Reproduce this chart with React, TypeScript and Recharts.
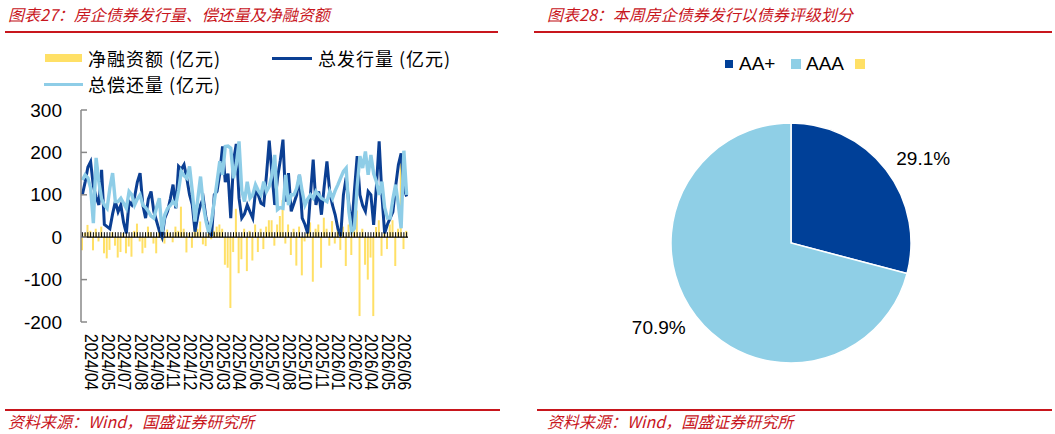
import React from 'react';
import { ComposedChart, Bar, Line, XAxis, YAxis, ReferenceLine, PieChart, Pie, Cell } from 'recharts';

const tickLabels = ['2024/04','2024/05','2024/07','2024/08','2024/09','2024/11','2024/12','2025/02','2025/03','2025/04','2025/06','2025/07','2025/08','2025/10','2025/11','2026/01','2026/02','2026/04','2026/05','2026/06'];

const issuance = [100,130,165,178,120,95,76,159,30,25,
 20,55,84,60,76,35,9,84,76,95,
 130,151,76,45,90,108,61,38,15,0,
 45,61,90,124,68,167,160,171,139,100,
 76,13,50,76,92,45,20,2,100,108,
 150,214,130,150,45,180,220,92,45,55,
 76,60,45,108,100,80,76,147,228,150,
 76,139,180,230,84,151,61,80,100,147,
 45,30,9,100,183,76,108,53,120,179,
 108,76,53,20,2,100,141,76,21,110,
 191,100,75,61,108,100,29,120,226,100,
 9,30,45,60,120,171,198,116,96];

const repayment = [135,147,140,116,33,187,131,90,76,68,
 116,151,84,84,92,80,68,108,100,76,
 90,100,76,70,61,50,45,70,92,13,
 53,68,75,84,76,110,155,145,139,167,
 108,37,90,143,76,37,10,40,84,130,
 179,147,214,215,210,139,171,226,110,84,
 131,92,100,124,110,100,131,108,120,147,
 194,65,70,68,147,76,100,100,116,147,
 108,76,90,100,92,108,100,92,88,84,
 108,92,110,124,140,155,163,60,13,21,
 120,191,163,202,147,194,150,131,100,131,
 70,45,45,90,124,76,21,204,100];

const netFinancing = [-31,10,29,15,-31,20,-10,25,-38,-50,
 -30,12,-20,-48,-35,10,-38,-22,-46,15,
 32,-10,-38,-25,25,12,-15,-38,20,-8,
 -15,18,10,-12,25,15,72,20,-36,10,
 -25,33,20,37,-17,-21,8,-5,15,25,
 30,20,-65,-72,-167,-35,67,-85,-52,20,
 -80,15,-55,30,-35,20,-28,25,40,40,
 -20,30,50,88,-15,30,-42,20,-67,25,
 -90,-10,15,35,-105,20,30,-72,46,20,
 -20,38,-15,20,-30,25,-68,30,-42,40,
 63,-186,20,-65,-100,-48,-186,24,40,-44,
 15,-28,30,40,-68,20,175,-28,15];

const yTicks = [-200, -100, 0, 100, 200, 300];

const pieNames = ['AA+', 'AAA', ''];
const pieValues = [29.1, 70.9, 0];
const pieColors = ['#004098', '#8FCFE6', '#FFE066'];

const DARK = '#0B3F93';
const LIGHT = '#8ECDE7';
const YELLOW = '#FFE066';
const RED = '#C8161D';
const NUM_FONT = 'Liberation Sans, Arial, sans-serif';
const CJK_FONT = '"Noto Sans CJK SC", sans-serif';

const data = issuance.map((v, i) => ({
  week: i,
  iss: v,
  rep: repayment[i],
  net: netFinancing[i],
  axis: 0,
}));

const pieData = pieNames
  .map((n, i) => ({ name: n, value: pieValues[i], color: pieColors[i] }))
  .filter((d) => d.value > 0);

const XTick = (props: any) => {
  const { x, y, payload } = props;
  const w = payload.value as number;
  if (w < 3 || (w - 3) % 6 !== 0) return <g />;
  const label = tickLabels[(w - 3) / 6];
  if (!label) return <g />;
  return (
    <g transform={`translate(${x + 1} ${y}) rotate(90) scale(0.82 1)`}>
      <text
        x={0}
        y={0}
        textAnchor="start"
        dominantBaseline="central"
        fontSize={19}
        fontFamily={NUM_FONT}
        fill="#000"
      >
        {label}
      </text>
    </g>
  );
};

const YTick = (props: any) => {
  const { x, y, payload } = props;
  return (
    <g>
      <line x1={x + 19} x2={x + 25} y1={y} y2={y} stroke="#888" strokeWidth={1.5} />
      <text x={x} y={y} textAnchor="end" dominantBaseline="central" fontSize={19} fontFamily={NUM_FONT} fill="#000">
        {payload.value}
      </text>
    </g>
  );
};

const AxisDot = (props: any) => {
  const { cx, cy, index } = props;
  if (cx == null || cy == null) return <g key={`d${index}`} />;
  return <line key={`d${index}`} x1={cx} x2={cx} y1={cy - 5} y2={cy} stroke="#000" strokeWidth={1} />;
};

const RAD = Math.PI / 180;
const PieLabel = (props: any) => {
  const { cx, cy, midAngle, outerRadius, value } = props;
  if (!value) return null;
  const a = (midAngle - 5) * RAD;
  const r = outerRadius + 37;
  const x = cx + r * Math.cos(a);
  const y = cy - r * Math.sin(a);
  return (
    <text x={x} y={y} textAnchor="middle" dominantBaseline="central" fontSize={19} fontFamily={NUM_FONT} fill="#000">
      {value.toFixed(1)}%
    </text>
  );
};

const abs = (s: React.CSSProperties): React.CSSProperties => ({ position: 'absolute', ...s });

const titleStyle = (left: number): React.CSSProperties =>
  abs({ left, top: 4, fontSize: 16, lineHeight: '20px', color: RED, fontStyle: 'italic', fontFamily: CJK_FONT, whiteSpace: 'nowrap' });

const legendText = (left: number, top: number): React.CSSProperties =>
  abs({ left, top, fontSize: 18, lineHeight: '20px', color: '#000', fontFamily: CJK_FONT, whiteSpace: 'nowrap', letterSpacing: 1 });

const rLegendText = (left: number): React.CSSProperties =>
  abs({ left, top: 53, fontSize: 19, lineHeight: '22px', color: '#000', fontFamily: NUM_FONT, whiteSpace: 'nowrap' });

export default function App() {
  return (
    <div style={abs({ left: 0, top: 0, width: 1055, height: 434, background: '#fff', overflow: 'hidden' })}>
      {/* titles */}
      <div style={titleStyle(8)}>图表27：房企债券发行量、偿还量及净融资额</div>
      <div style={titleStyle(547)}>图表28：本周房企债券发行以债券评级划分</div>
      <div style={abs({ left: 5, top: 31, width: 493, height: 2, background: RED })} />
      <div style={abs({ left: 534, top: 31, width: 518, height: 2, background: RED })} />

      {/* left legend */}
      <div style={abs({ left: 45, top: 54, width: 37, height: 8, background: YELLOW })} />
      <div style={legendText(88, 48)}>净融资额 (亿元)</div>
      <div style={abs({ left: 272, top: 56.5, width: 40, height: 3, background: DARK })} />
      <div style={legendText(318, 48)}>总发行量 (亿元)</div>
      <div style={abs({ left: 44, top: 82.5, width: 39, height: 3, background: LIGHT })} />
      <div style={legendText(88, 74)}>总偿还量 (亿元)</div>

      {/* left chart */}
      <div style={abs({ left: 0, top: 0 })}>
        <ComposedChart width={420} height={400} data={data} margin={{ top: 110, right: 12, bottom: 8, left: 21 }}>
          <XAxis
            dataKey="week"
            type="category"
            interval={0}
            tickLine={false}
            axisLine={false}
            tickSize={0}
            tickMargin={12}
            height={70}
            tick={<XTick />}
          />
          <YAxis
            domain={[-200, 300]}
            ticks={yTicks}
            interval={0}
            width={60}
            axisLine={{ stroke: '#888', strokeWidth: 1.5 }}
            tickLine={false}
            tickSize={0}
            tickMargin={19}
            tick={<YTick />}
            allowDataOverflow
          />
          <Bar dataKey="net" fill={YELLOW} barSize={2} isAnimationActive={false} />
          <ReferenceLine y={0} stroke="#000" strokeWidth={1.2} />
          <Line dataKey="axis" stroke="none" dot={AxisDot} activeDot={false} isAnimationActive={false} />
          <Line dataKey="iss" type="linear" stroke={DARK} strokeWidth={3} dot={false} activeDot={false} isAnimationActive={false} />
          <Line dataKey="rep" type="linear" stroke={LIGHT} strokeWidth={3.4} dot={false} activeDot={false} isAnimationActive={false} />
        </ComposedChart>
      </div>

      {/* right legend */}
      <div style={abs({ left: 725, top: 60, width: 8, height: 8, background: pieColors[0] })} />
      <div style={rLegendText(739)}>{pieNames[0]}</div>
      <div style={abs({ left: 791, top: 59, width: 10, height: 10, background: pieColors[1] })} />
      <div style={rLegendText(806)}>{pieNames[1]}</div>
      <div style={abs({ left: 855, top: 59, width: 10, height: 10, background: pieColors[2] })} />
      <div style={rLegendText(870)}>{pieNames[2]}</div>

      {/* pie */}
      <div style={abs({ left: 520, top: 0 })}>
        <PieChart width={535} height={400} margin={{ top: 0, right: 0, bottom: 0, left: 0 }}>
          <Pie
            data={pieData}
            dataKey="value"
            nameKey="name"
            cx={271}
            cy={243}
            outerRadius={120}
            startAngle={90}
            endAngle={-270}
            stroke="#fff"
            strokeWidth={1.5}
            label={PieLabel}
            labelLine={false}
            isAnimationActive={false}
          >
            {pieData.map((d, i) => (
              <Cell key={`c${i}`} fill={d.color} />
            ))}
          </Pie>
        </PieChart>
      </div>

      {/* sources */}
      <div style={abs({ left: 5, top: 409, width: 495, height: 2, background: RED })} />
      <div style={abs({ left: 537, top: 409, width: 515, height: 2, background: RED })} />
      <div style={abs({ left: 8, top: 411, fontSize: 16, lineHeight: '20px', color: RED, fontStyle: 'italic', fontFamily: CJK_FONT, whiteSpace: 'nowrap' })}>资料来源：Wind，国盛证券研究所</div>
      <div style={abs({ left: 547, top: 411, fontSize: 16, lineHeight: '20px', color: RED, fontStyle: 'italic', fontFamily: CJK_FONT, whiteSpace: 'nowrap' })}>资料来源：Wind，国盛证券研究所</div>
    </div>
  );
}
